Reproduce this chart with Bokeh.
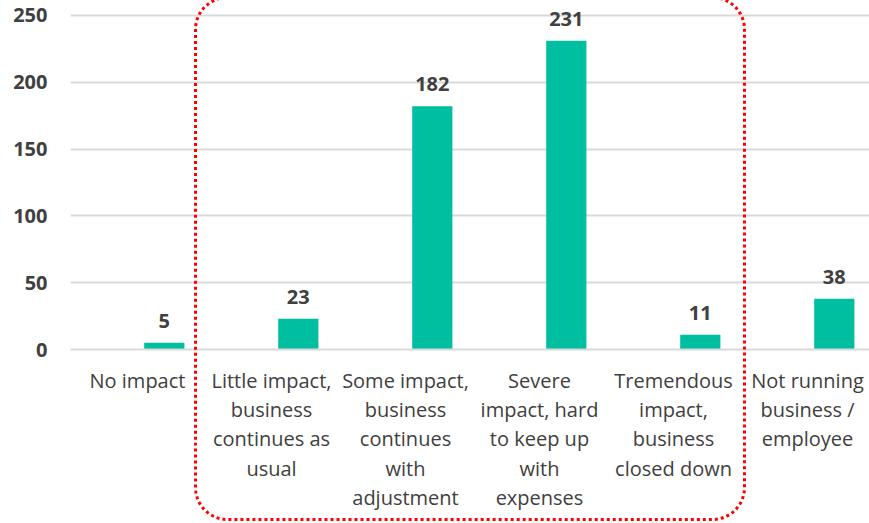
import urllib.parse
from bokeh.plotting import figure
from bokeh.models import ColumnDataSource, Range1d, FixedTicker, InlineStyleSheet
from bokeh.transform import dodge
from bokeh.core.properties import value
from bokeh.embed import file_html
from bokeh.resources import INLINE

categories = [
    "No impact",
    "Little impact,\nbusiness\ncontinues as\nusual",
    "Some impact,\nbusiness\ncontinues\nwith\nadjustment",
    "Severe\nimpact, hard\nto keep up\nwith\nexpenses",
    "Tremendous\nimpact,\nbusiness\nclosed down",
    "Not running\nbusiness /\nemployee",
]
counts = [5, 23, 182, 231, 11, 38]
y_ticks = [0, 50, 100, 150, 200, 250]

FONT = "Open Sans"
TXT = "#404040"
BAR = "#00BFA0"

centers = [i + 0.5 for i in range(len(categories))]
src = ColumnDataSource(dict(xc=centers, v=counts, lab=[str(c) for c in counts]))

W, H = 869, 523
p = figure(width=W, height=H, output_backend="svg", toolbar_location=None,
           x_range=Range1d(0, 799 / 134), y_range=Range1d(0, 261.2))
p.min_border_left = 70
p.min_border_right = 0
p.min_border_top = 0
p.min_border_bottom = 174
p.outline_line_color = None
p.background_fill_color = "white"
p.border_fill_color = "white"

p.vbar(x=dodge("xc", 0.2), top="v", width=0.3, bottom=0, source=src,
       fill_color=BAR, line_color=None)
p.text(x=dodge("xc", 0.2), y="v", text="lab", source=src,
       text_align="center", text_baseline="alphabetic", y_offset=-22,
       text_font=value(FONT), text_font_style="bold", text_font_size="20px",
       text_color=TXT)

# y axis
p.yaxis.ticker = FixedTicker(ticks=y_ticks)
p.yaxis.axis_line_color = None
p.yaxis.major_tick_line_color = None
p.yaxis.minor_tick_line_color = None
p.yaxis.major_label_text_font = FONT
p.yaxis.major_label_text_font_style = "bold"
p.yaxis.major_label_text_font_size = "20px"
p.yaxis.major_label_text_color = TXT
p.yaxis.major_label_standoff = 17

# x axis
p.xaxis.ticker = FixedTicker(ticks=centers)
p.xaxis.major_label_overrides = {c: lab for c, lab in zip(centers, categories)}
p.xaxis.axis_line_color = "#d9d9d9"
p.xaxis.axis_line_width = 2
p.xaxis.major_tick_line_color = None
p.xaxis.minor_tick_line_color = None
p.xaxis.major_label_text_font = FONT
p.xaxis.major_label_text_font_size = "20px"
p.xaxis.major_label_text_color = TXT
p.xaxis.major_label_text_line_height = 1.09
p.xaxis.major_label_standoff = 11

p.xgrid.grid_line_color = None
p.ygrid.ticker = FixedTicker(ticks=y_ticks)
p.ygrid.grid_line_color = "#d9d9d9"
p.ygrid.grid_line_width = 2

# red dotted rounded frame around the "impact" categories (page overlay)
bx_l, bx_t, bx_r, bx_b = 195.5, -3, 744, 519.5
bw, bh = bx_r - bx_l, bx_b - bx_t
svg = (f'<svg xmlns="http://www.w3.org/2000/svg" width="{bw + 3}" height="{bh + 3}">'
       f'<rect x="1.5" y="1.5" width="{bw}" height="{bh}" rx="32" ry="32" fill="none" '
       f'stroke="#FF0000" stroke-width="3" stroke-dasharray="3 3"/></svg>')
uri = "data:image/svg+xml," + urllib.parse.quote(svg)
css = (":host::after { content: ''; position: absolute; "
       f"left: {bx_l - 1.5}px; top: {bx_t - 1.5}px; width: {bw + 3}px; height: {bh + 3}px; "
       f"background: url(\"{uri}\") no-repeat; pointer-events: none; z-index: 10; }}")
p.stylesheets = [InlineStyleSheet(css=css)]

open("out.html", "w").write(file_html(p, INLINE))
